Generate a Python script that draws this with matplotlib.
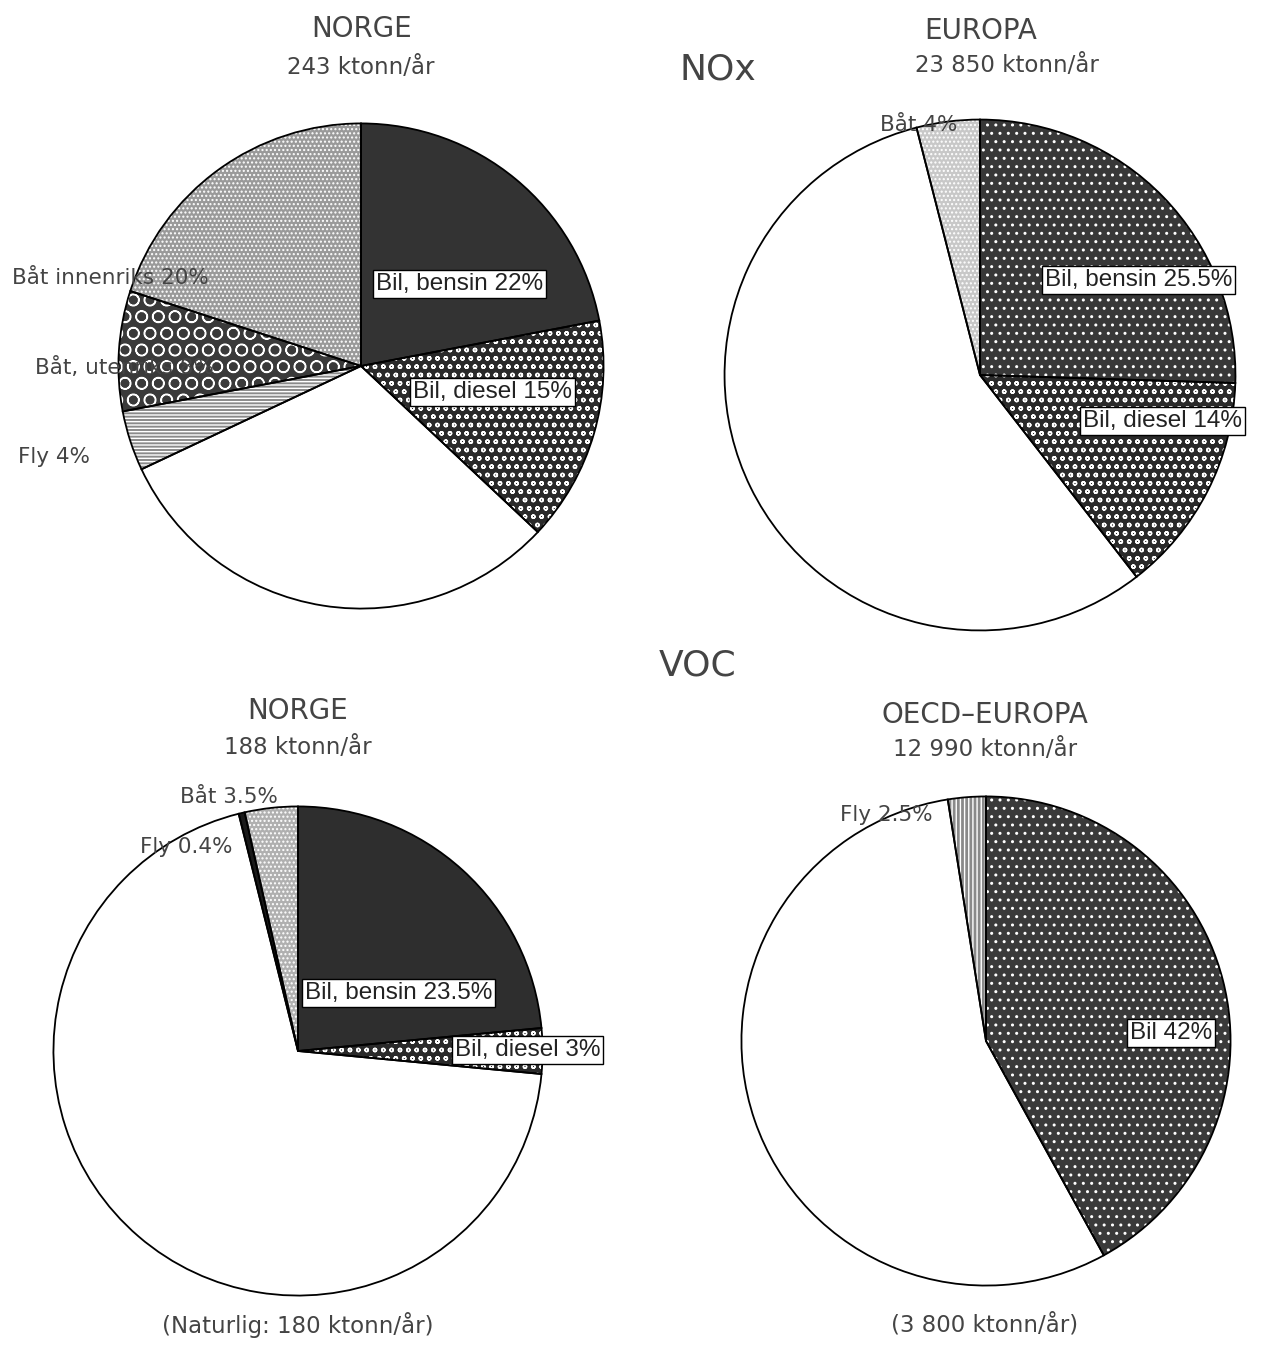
import matplotlib
matplotlib.use("Agg")
import matplotlib.pyplot as plt

W, H = 1264, 1353

# NOx, Norge (243 ktonn/år)
nox_norge_labels = ["Bil, bensin 22%", "Bil, diesel 15%", "", "Fly 4%", "Båt, utenriks 8%", "Båt innenriks 20%"]
nox_norge_values = [22, 15, 31, 4, 8, 20]

# NOx, Europa (23 850 ktonn/år)
nox_europa_labels = ["Bil, bensin 25.5%", "Bil, diesel 14%", "", "Båt 4%"]
nox_europa_values = [25.5, 14, 56.5, 4]

# VOC, Norge (188 ktonn/år)
voc_norge_labels = ["Bil, bensin 23.5%", "Bil, diesel 3%", "", "Fly 0.4%", "Båt 3.5%"]
voc_norge_values = [23.5, 3, 69.6, 0.4, 3.5]

# VOC, OECD-Europa (12 990 ktonn/år)
voc_oecd_labels = ["Bil 42%", "", "Fly 2.5%"]
voc_oecd_values = [42, 55.5, 2.5]

plt.rcParams['font.family'] = ['DejaVu Sans']
TXT = '#444444'

fig = plt.figure(figsize=(W / 100, H / 100), dpi=100)


def px(x, y):
    return x / W, 1 - y / H


def pie(cx, cy, r, values, colors, hatches):
    ax = fig.add_axes([(cx - r) / W, 1 - (cy + r) / H, 2 * r / W, 2 * r / H])
    ax.pie(values, colors=colors, startangle=90, counterclock=False, radius=1,
           wedgeprops=dict(linewidth=0))
    # white hatch overlay
    wedges, _ = ax.pie(values, colors=['none'] * len(values), startangle=90,
                       counterclock=False, radius=1,
                       wedgeprops=dict(linewidth=0, edgecolor='white'))
    for w, h in zip(wedges, hatches):
        if h:
            w.set_hatch(h)
        else:
            w.set_edgecolor('none')
    ax.pie(values, colors=['none'] * len(values), startangle=90, counterclock=False,
           radius=1, wedgeprops=dict(linewidth=1.3, edgecolor='black'))
    ax.set_xlim(-1.01, 1.01)
    ax.set_ylim(-1.01, 1.01)
    ax.axis('off')
    return ax


def label(x, y, s, box=False, ha='left'):
    if box:
        fig.text(*px(x, y), s, fontsize=17.5, ha=ha, va='center', color='#222222',
                 family=['Liberation Sans', 'DejaVu Sans'], zorder=10,
                 bbox=dict(facecolor='white', edgecolor='black', linewidth=1, pad=2))
    else:
        fig.text(*px(x, y), s, fontsize=15.5, ha=ha, va='center', color=TXT, zorder=10)


def title(x, y, s, size):
    fig.text(*px(x, y), s, fontsize=size, ha='center', va='center', color=TXT)


pie(361, 366, 245, nox_norge_values,
    ['#333333', '#2a2a2a', 'white', '#8a8a8a', '#3a3a3a', '#9a9a9a'],
    [None, 'oo', None, '-----', 'O', '....'])
pie(980, 375, 258, nox_europa_values,
    ['#383838', '#2a2a2a', 'white', '#c8c8c8'],
    ['..', 'oo', None, '....'])
pie(298, 1051, 247, voc_norge_values,
    ['#2e2e2e', '#2a2a2a', 'white', '#1a1a1a', '#b0b0b0'],
    [None, 'oo', None, None, '....'])
pie(986, 1041, 247, voc_oecd_values,
    ['#3a3a3a', 'white', '#8a8a8a'],
    ['..', None, '||||'])

# titles
title(362, 29, "NORGE", 20)
title(361, 68, "243 ktonn/år", 16.5)
title(718, 69, "NOx", 26)
title(981, 31, "EUROPA", 20)
title(1007, 66, "23 850 ktonn/år", 16.5)
title(698, 665, "VOC", 26)
title(298, 711, "NORGE", 20)
title(298, 748, "188 ktonn/år", 16.5)
title(985, 715, "OECD\u2013EUROPA", 20)
title(985, 750, "12 990 ktonn/år", 16.5)
title(298, 1325, "(Naturlig: 180 ktonn/år)", 16.5)
title(985, 1325, "(3 800 ktonn/år)", 16.5)

# slice labels
label(376, 284, nox_norge_labels[0], box=True)
label(413, 392, nox_norge_labels[1], box=True)
label(18, 457, nox_norge_labels[3])
label(35, 367, nox_norge_labels[4])
label(12, 278, nox_norge_labels[5])

label(1045, 280, nox_europa_labels[0], box=True)
label(1083, 421, nox_europa_labels[1], box=True)
label(880, 125, nox_europa_labels[3])

label(305, 993, voc_norge_labels[0], box=True)
label(455, 1050, voc_norge_labels[1], box=True)
label(140, 847, voc_norge_labels[3])
label(180, 797, voc_norge_labels[4])

label(1130, 1033, voc_oecd_labels[0], box=True)
label(840, 815, voc_oecd_labels[2])

fig.savefig("out.png", dpi=100, facecolor='white')
